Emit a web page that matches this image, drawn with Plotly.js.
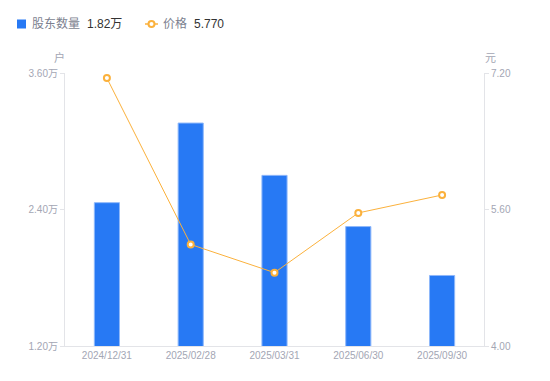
<!DOCTYPE html>
<html>
<head>
<meta charset="utf-8">
<script src="https://cdn.plot.ly/plotly-3.0.1.min.js"></script>
<style>html,body{margin:0;padding:0;background:#fff;}#chart{width:550px;height:381px;}</style>
</head>
<body>
<div id="chart"></div>
<script>
const categories = ['2024/12/31', '2025/02/28', '2025/03/31', '2025/06/30', '2025/09/30'];
const holders = [2.46, 3.16, 2.70, 2.25, 1.82];   // 万户
const prices = [7.14, 5.19, 4.86, 5.56, 5.77];     // 元
const leftTicks = [1.2, 2.4, 3.6];
const leftTickText = ['1.20万', '2.40万', '3.60万'];
const rightTicks = [4.0, 5.6, 7.2];
const rightTickText = ['4.00', '5.60', '7.20'];
const holderName = '股东数量';
const priceName = '价格';
const holderLatest = '1.82万';
const priceLatest = '5.770';

const FONT = 'Liberation Sans, Arial, Noto Sans CJK SC, sans-serif';
const tickColor = '#a3a6b4';
const axisColor = '#e3e4e8';
const barColor = '#2779f4';
const lineColor = '#fbb13c';

// plot area in pixels (for placing legend items outside the plot)
const M = {l: 65, r: 66, t: 73, b: 35}, W = 550, H = 381;
const pw = W - M.l - M.r, ph = H - M.t - M.b;
const px = v => (v - M.l) / pw;
const py = v => (H - M.b - v) / ph;

const data = [
  {
    type: 'bar', x: categories, y: holders, name: holderName,
    marker: {color: barColor, line: {color: '#8fb8fa', width: 1}},
    width: 0.3, yaxis: 'y', hoverinfo: 'x+y'
  },
  {
    type: 'scatter', mode: 'lines+markers', x: categories, y: prices, name: priceName,
    line: {color: lineColor, width: 1},
    marker: {symbol: 'circle', size: 6, color: '#ffffff', line: {color: lineColor, width: 2}},
    yaxis: 'y2'
  }
];

const legendY = py(24);
const ann = (text, x, y, color, size, anchor) => ({
  text, xref: 'paper', yref: 'paper', x, y, showarrow: false,
  xanchor: anchor || 'left', yanchor: 'middle',
  font: {size: size || 12, color, family: FONT}
});

const layout = {
  width: W, height: H, margin: M,
  paper_bgcolor: '#fff', plot_bgcolor: '#fff',
  font: {family: FONT, size: 10, color: tickColor},
  showlegend: false,
  xaxis: {
    type: 'category', showline: true, linecolor: axisColor, linewidth: 1,
    showgrid: false, zeroline: false, ticks: '', tickfont: {size: 10, color: tickColor}
  },
  yaxis: {
    range: [1.2, 3.6], tickvals: leftTicks, ticktext: leftTickText,
    showline: true, linecolor: axisColor, linewidth: 1, ticks: 'outside', ticklen: 4, tickcolor: axisColor,
    showgrid: false, zeroline: false, tickfont: {size: 10, color: tickColor}
  },
  yaxis2: {
    range: [4.0, 7.2], tickvals: rightTicks, ticktext: rightTickText,
    overlaying: 'y', side: 'right',
    showline: true, linecolor: axisColor, linewidth: 1, ticks: 'outside', ticklen: 4, tickcolor: axisColor,
    showgrid: false, zeroline: false, tickfont: {size: 10, color: tickColor}
  },
  shapes: [
    {type: 'rect', xref: 'paper', yref: 'paper', x0: px(17), x1: px(26), y0: py(19.5), y1: py(28.5),
     fillcolor: barColor, line: {width: 0}},
    {type: 'line', xref: 'paper', yref: 'paper', x0: px(145), x1: px(158), y0: legendY, y1: legendY,
     line: {color: lineColor, width: 1.5}},
    {type: 'circle', xref: 'paper', yref: 'paper', x0: px(148.5), x1: px(154.5), y0: py(21), y1: py(27),
     fillcolor: '#ffffff', line: {color: lineColor, width: 2}}
  ],
  annotations: [
    ann(holderName, px(30), legendY, '#7c7f8f', 12),
    ann(holderLatest, px(85), legendY, '#333333', 12),
    ann(priceName, px(161), legendY, '#7c7f8f', 12),
    ann(priceLatest, px(192), legendY, '#333333', 12),
    {text: '户', xref: 'paper', yref: 'paper', x: 0, y: 1, xshift: -6, yshift: 16, showarrow: false,
     xanchor: 'center', yanchor: 'middle', font: {size: 11, color: tickColor, family: 'Noto Sans CJK SC'}},
    {text: '元', xref: 'paper', yref: 'paper', x: 1, y: 1, xshift: 6, yshift: 16, showarrow: false,
     xanchor: 'center', yanchor: 'middle', font: {size: 11, color: tickColor, family: 'Noto Sans CJK SC'}}
  ]
};

Plotly.newPlot('chart', data, layout, {displayModeBar: false, staticPlot: true});
</script>
</body>
</html>
